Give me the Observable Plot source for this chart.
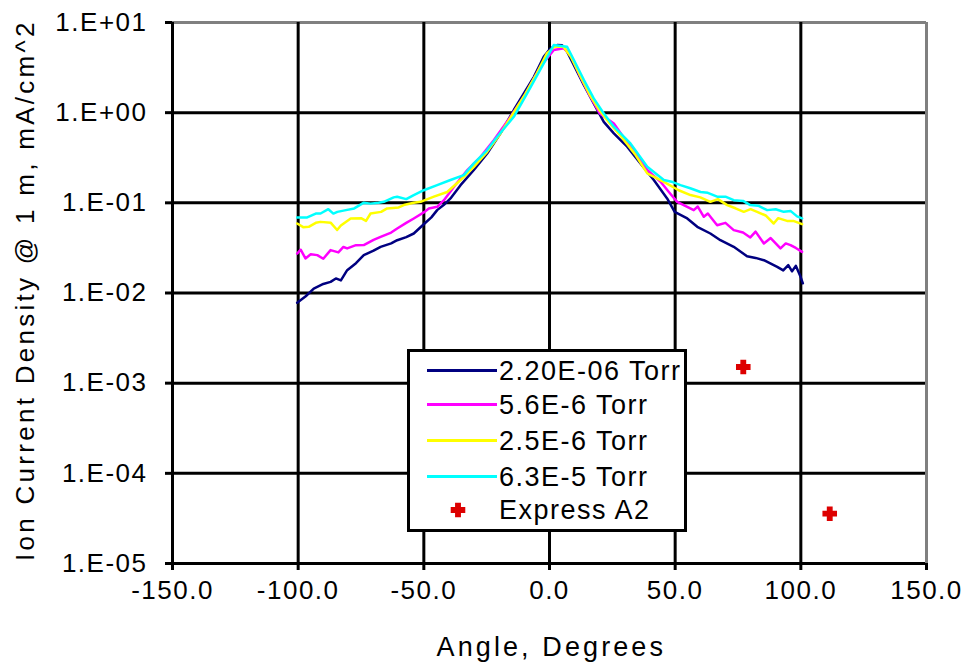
<!DOCTYPE html>
<html>
<head>
<meta charset="utf-8">
<script src="https://cdn.jsdelivr.net/npm/d3@7"></script>
<script src="https://cdn.jsdelivr.net/npm/@observablehq/plot@0.6"></script>
<style>
  html, body { margin: 0; padding: 0; background: #fff; }
  #wrap { position: relative; width: 966px; height: 665px; font-family: "Liberation Sans", Arial, sans-serif; }
  #wrap svg text { letter-spacing: 1.5px; }
  #legend { position: absolute; left: 407px; top: 349px; width: 274px; height: 177px; border: 3px solid #000; background: #fff; }
  .row { position: absolute; left: 0; height: 34px; width: 274px; }
  .sw { position: absolute; left: 17px; width: 70px; height: 3px; top: 15px; }
  .lbl { position: absolute; left: 89px; top: 0; font-size: 27px; line-height: 34px; letter-spacing: 1.5px; color: #000; white-space: nowrap; }
</style>
</head>
<body>
<div id="wrap"></div>
<script>
// ---- data ----
const seriesNames = ["2.20E-06 Torr", "5.6E-6 Torr", "2.5E-6 Torr", "6.3E-5 Torr"];
const seriesColors = ["#000080", "#ff00ff", "#ffff00", "#00ffff"];

const s1Angle = [-100.4, -97, -93.8, -90, -87.1, -85, -83, -80.5, -77, -73.9, -70, -67.2, -63, -60.6, -57, -54, -49.7, -47, -44.7, -42, -39.4, -35.4, -30.1, -24.8, -19.5, -14.2, -10.2, -6.2, -2.3, 0.4, 3.1, 5, 7, 9.7, 13.7, 17.6, 21.6, 25.6, 30.9, 36.2, 41.5, 46.8, 49.8, 54.8, 58.8, 64, 68, 73.3, 78.6, 82, 85.3, 90.6, 93, 95, 96.5, 98, 99.9, 100.8];
const s1Value = [0.0078, 0.0092, 0.0112, 0.0126, 0.0133, 0.0145, 0.0138, 0.0179, 0.0214, 0.0263, 0.0295, 0.0325, 0.0355, 0.0385, 0.0417, 0.0457, 0.059, 0.069, 0.083, 0.095, 0.112, 0.157, 0.231, 0.353, 0.589, 1.07, 1.64, 2.50, 4.17, 5.18, 5.62, 5.6, 4.74, 3.37, 2.02, 1.27, 0.79, 0.589, 0.419, 0.274, 0.179, 0.112, 0.0794, 0.0671, 0.0542, 0.0457, 0.0385, 0.0325, 0.0256, 0.0245, 0.0231, 0.0195, 0.0178, 0.0204, 0.0174, 0.0200, 0.0151, 0.0128];

const s2Angle = [-100.4, -99, -97.1, -95, -92.4, -90, -87.1, -84, -82, -80.5, -77, -73.9, -70, -67.2, -63, -60.6, -57, -54, -49.7, -48, -44.7, -42, -38, -32.7, -27.4, -22.1, -15.5, -10.2, -3.6, 1.7, 5.7, 8.4, 12.3, 16, 20, 25.6, 30.2, 34.2, 38.9, 44.2, 47.5, 50.8, 57.4, 59, 61.4, 63, 66.7, 70, 73.3, 77, 79.9, 82, 85.3, 88, 91.9, 94, 95.9, 98, 100.5];
const s2Value = [0.0274, 0.0302, 0.0242, 0.0269, 0.0263, 0.0240, 0.0299, 0.0282, 0.0324, 0.0312, 0.0339, 0.034, 0.0389, 0.042, 0.0468, 0.052, 0.060, 0.0671, 0.0794, 0.0867, 0.0904, 0.107, 0.151, 0.231, 0.324, 0.497, 0.90, 1.50, 3.24, 4.95, 5.18, 4.36, 2.5, 1.55, 0.98, 0.76, 0.497, 0.353, 0.231, 0.171, 0.132, 0.1026, 0.083, 0.091, 0.070, 0.076, 0.0565, 0.060, 0.0498, 0.0468, 0.0413, 0.0479, 0.0354, 0.0407, 0.0312, 0.0355, 0.034, 0.0316, 0.0286];

const s3Angle = [-100.4, -98, -95.8, -93, -91.1, -87, -84.5, -83, -79.1, -75, -73, -71.2, -67, -64.6, -60, -58, -54, -51.3, -46, -40.7, -35.4, -30.1, -24.8, -19.5, -15, -10, -5, -1, 2, 5.5, 8.5, 12, 16, 20, 24, 29, 34, 38.9, 45.5, 51.4, 56.1, 60, 64, 67, 70.7, 74, 77.3, 80, 82.6, 86, 89.2, 91, 94.5, 97, 100.5];
const s3Value = [0.059, 0.0537, 0.0542, 0.060, 0.0615, 0.060, 0.050, 0.056, 0.0671, 0.0676, 0.063, 0.0762, 0.0794, 0.0867, 0.089, 0.0944, 0.100, 0.1026, 0.117, 0.132, 0.179, 0.251, 0.368, 0.589, 0.93, 1.55, 2.75, 4.57, 5.37, 5.37, 4.17, 2.63, 1.58, 1.05, 0.76, 0.525, 0.347, 0.212, 0.171, 0.138, 0.122, 0.115, 0.1026, 0.110, 0.0944, 0.087, 0.0794, 0.085, 0.0794, 0.0724, 0.059, 0.0676, 0.063, 0.063, 0.058];

const s4Angle = [-100.4, -96.4, -93, -91.1, -88, -86, -84.4, -81, -77.7, -74, -71.2, -68, -65.9, -62, -60.6, -57, -54, -50, -44.7, -39.4, -34.1, -30.1, -24.8, -20.8, -14.2, -8.9, -2.3, 1.7, 7, 9.7, 13.7, 17.6, 21.6, 25.6, 32.2, 38.9, 45.5, 49, 52.1, 56, 60.1, 63, 66.7, 70, 73.3, 77, 79.9, 83, 86.6, 90, 93.2, 96, 98.5, 100.5];
const s4Value = [0.0689, 0.0689, 0.076, 0.0762, 0.085, 0.076, 0.0794, 0.083, 0.0867, 0.100, 0.098, 0.100, 0.1026, 0.115, 0.117, 0.110, 0.122, 0.138, 0.157, 0.179, 0.203, 0.274, 0.385, 0.541, 0.90, 1.64, 3.52, 5.62, 5.38, 3.84, 2.30, 1.44, 0.98, 0.70, 0.456, 0.251, 0.179, 0.170, 0.157, 0.145, 0.132, 0.129, 0.117, 0.117, 0.107, 0.105, 0.0944, 0.093, 0.083, 0.085, 0.0794, 0.081, 0.0708, 0.0671];

const expressName = "Express A2";
const expressColor = "#dd0000";
const expressAngle = [77.1, 111.5];
const expressValue = [1.51e-3, 3.57e-5];

const xTicks = [-150, -100, -50, 0, 50, 100, 150];
const yTicks = [1e-5, 1e-4, 1e-3, 1e-2, 1e-1, 1, 10];
const xTitle = "Angle, Degrees";
const yTitle = "Ion Current Density @ 1 m, mA/cm^2";

// ---- build ----
const angleSets = [s1Angle, s2Angle, s3Angle, s4Angle];
const valueSets = [s1Value, s2Value, s3Value, s4Value];
const lines = angleSets.map((a, i) => a.map((x, j) => ({x, y: valueSets[i][j]})));
const express = expressAngle.map((x, j) => ({x, y: expressValue[j]}));

const fmtY = d => {
  const e = Math.round(Math.log10(d));
  return "1.E" + (e >= 0 ? "+" : "-") + String(Math.abs(e)).padStart(2, "0");
};

const chart = Plot.plot({
  width: 966,
  height: 665,
  marginLeft: 172,
  marginRight: 40,
  marginTop: 22,
  marginBottom: 102,
  style: {fontFamily: "'Liberation Sans', Arial, sans-serif", fontSize: "26px", color: "#000", background: "#fff", overflow: "visible"},
  x: {domain: [-150, 150]},
  y: {type: "log", domain: [1e-5, 10]},
  marks: [
    Plot.ruleY(yTicks.slice(0, -1), {stroke: "#000", strokeWidth: 3}),
    Plot.ruleY(yTicks.slice(-1), {stroke: "#808080", strokeWidth: 3}),
    Plot.ruleX(xTicks.slice(0, -1), {stroke: "#000", strokeWidth: 3}),
    Plot.ruleX(xTicks.slice(-1), {stroke: "#808080", strokeWidth: 3}),
    ...lines.map((d, i) => Plot.line(d, {x: "x", y: "y", stroke: seriesColors[i], strokeWidth: 2.5})),
    Plot.dot(express, {x: "x", y: "y", symbol: "cross", fill: expressColor, stroke: expressColor, strokeWidth: 1.5, r: 5.5}),
    Plot.axisY({ticks: yTicks, tickFormat: fmtY, tickSize: 7, tickPadding: 18, strokeWidth: 3, label: null, fontSize: 26}),
    Plot.axisX({ticks: xTicks, tickFormat: d => d.toFixed(1), tickSize: 7, tickPadding: 10, strokeWidth: 3, label: null, fontSize: 26}),
    Plot.text([yTitle], {frameAnchor: "left", dx: -147, dy: -2, rotate: -90, fontSize: 26, textAnchor: "middle"}),
    Plot.text([xTitle], {frameAnchor: "bottom", dx: 1, dy: 84, fontSize: 27, textAnchor: "middle", lineAnchor: "middle"})
  ]
});

const wrap = document.getElementById("wrap");
wrap.appendChild(chart);

d3.select(chart).selectAll("text").each(function () {
  const t = this.textContent;
  if (t === yTitle) { d3.select(this).attr("textLength", 540).attr("lengthAdjust", "spacing"); }
  if (t === xTitle) { d3.select(this).attr("textLength", 228).attr("lengthAdjust", "spacing"); }
});

// legend
const legend = d3.select(wrap).append("div").attr("id", "legend");
const rowTops = [2, 36, 72, 108, 141];
seriesNames.forEach((name, i) => {
  const row = legend.append("div").attr("class", "row").style("top", rowTops[i] + "px");
  row.append("div").attr("class", "sw").style("background", seriesColors[i]);
  row.append("div").attr("class", "lbl").text(name);
});
const er = legend.append("div").attr("class", "row").style("top", rowTops[4] + "px");
er.append("svg").attr("width", 20).attr("height", 20)
  .style("position", "absolute").style("left", "38px").style("top", "7px")
  .append("path").attr("transform", "translate(10,10)")
  .attr("d", d3.symbol(d3.symbolCross, 95)()).attr("fill", expressColor)
  .attr("stroke", expressColor).attr("stroke-width", 1.5);
er.append("div").attr("class", "lbl").text(expressName);
</script>
</body>
</html>
